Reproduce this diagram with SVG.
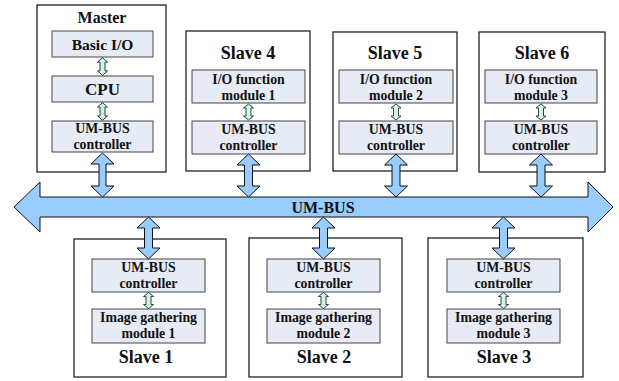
<svg xmlns="http://www.w3.org/2000/svg" width="619" height="381" viewBox="0 0 619 381">
<style>
.outer{fill:#fff;stroke:#222;stroke-width:1.3}
.mod{fill:#e6ebf6;stroke:#444;stroke-width:1}
.big{fill:#99ccff;stroke:#111;stroke-width:1}
.small{fill:#ccf5ee;stroke:#2a2a2a;stroke-width:0.9}
text{font-family:"Liberation Serif","Times New Roman",serif;font-weight:bold;text-anchor:middle;fill:#111}
.t{font-size:16px}
.s{font-size:18px}
.m{font-size:13.8px}
</style>
<defs>
<path id="sa" d="M0,-8 L5,-4 L2.5,-4 L2.5,4 L5,4 L0,8 L-5,4 L-2.5,4 L-2.5,-4 L-5,-4 Z"/>
</defs>
<g id="connectors">
<path class="big" d="M14,207 L40,182 L40,197 L588,197 L588,182 L613,207 L588,232 L588,217 L40,217 L40,232 Z"/>
<text x="323" y="213" class="t">UM-BUS</text>
</g>
<g id="master">
<rect class="outer" x="37" y="5" width="129" height="167"/>
<text x="102" y="23" class="t">Master</text>
<rect class="mod" x="52" y="31" width="101" height="26"/>
<text x="102.5" y="50" style="font-size:15.5px">Basic I/O</text>
<rect class="mod" x="52" y="76" width="101" height="26"/>
<text x="102.5" y="95" style="font-size:17px">CPU</text>
<rect class="mod" x="52" y="121" width="101" height="31"/>
<text x="102.5" y="133" class="m">UM-BUS</text>
<text x="102.5" y="149" class="m">controller</text>
<use href="#sa" class="small" transform="translate(102.5,66.5) scale(1,1.1)"/>
<use href="#sa" class="small" transform="translate(102.5,111.5) scale(1,1.1)"/>
</g>
<g id="slave4">
<rect class="outer" x="186" y="31" width="124" height="140"/>
<text x="248" y="59" class="s">Slave 4</text>
<rect class="mod" x="192" y="70" width="113" height="33"/>
<text x="248.5" y="84" class="m">I/O function</text>
<text x="248.5" y="100" class="m">module 1</text>
<rect class="mod" x="192" y="121" width="113" height="33"/>
<text x="248.5" y="134" class="m">UM-BUS</text>
<text x="248.5" y="150" class="m">controller</text>
<use href="#sa" class="small" transform="translate(248.5,112)"/>
</g>
<g id="slave5">
<rect class="outer" x="333" y="32" width="124" height="139"/>
<text x="395" y="59" class="s">Slave 5</text>
<rect class="mod" x="339" y="70" width="114" height="33"/>
<text x="396" y="84" class="m">I/O function</text>
<text x="396" y="100" class="m">module 2</text>
<rect class="mod" x="339" y="121" width="114" height="33"/>
<text x="396" y="134" class="m">UM-BUS</text>
<text x="396" y="150" class="m">controller</text>
<use href="#sa" class="small" transform="translate(396,112)"/>
</g>
<g id="slave6">
<rect class="outer" x="479" y="32" width="126" height="140"/>
<text x="542" y="59" class="s">Slave 6</text>
<rect class="mod" x="485" y="70" width="112" height="33"/>
<text x="541" y="84" class="m">I/O function</text>
<text x="541" y="100" class="m">module 3</text>
<rect class="mod" x="485" y="121" width="112" height="33"/>
<text x="541" y="134" class="m">UM-BUS</text>
<text x="541" y="150" class="m">controller</text>
<use href="#sa" class="small" transform="translate(541,112)"/>
</g>
<g id="slave1">
<rect class="outer" x="74" y="239" width="152" height="138"/>
<rect class="mod" x="92" y="259" width="113" height="33"/>
<text x="148.5" y="272" class="m">UM-BUS</text>
<text x="148.5" y="288" class="m">controller</text>
<rect class="mod" x="92" y="309" width="113" height="34"/>
<text x="148.5" y="322" class="m">Image gathering</text>
<text x="148.5" y="338" class="m">module 1</text>
<text x="146" y="363" class="s">Slave 1</text>
<use href="#sa" class="small" transform="translate(148.5,300.5)"/>
</g>
<g id="slave2">
<rect class="outer" x="249" y="238" width="153" height="139"/>
<rect class="mod" x="267" y="259" width="113" height="33"/>
<text x="323.5" y="272" class="m">UM-BUS</text>
<text x="323.5" y="288" class="m">controller</text>
<rect class="mod" x="267" y="309" width="113" height="34"/>
<text x="323.5" y="322" class="m">Image gathering</text>
<text x="323.5" y="338" class="m">module 2</text>
<text x="324" y="363" class="s">Slave 2</text>
<use href="#sa" class="small" transform="translate(323.5,300.5)"/>
</g>
<g id="slave3">
<rect class="outer" x="428" y="238" width="155" height="139"/>
<rect class="mod" x="447" y="259" width="113" height="33"/>
<text x="503.5" y="272" class="m">UM-BUS</text>
<text x="503.5" y="288" class="m">controller</text>
<rect class="mod" x="447" y="309" width="113" height="34"/>
<text x="503.5" y="322" class="m">Image gathering</text>
<text x="503.5" y="338" class="m">module 3</text>
<text x="504" y="363" class="s">Slave 3</text>
<use href="#sa" class="small" transform="translate(503.5,300.5)"/>
</g>
<g id="bus-links">
<path class="big" d="M102.5,153 L114,164 L106,164 L106,186 L114,186 L102.5,197 L91,186 L99,186 L99,164 L91,164 Z"/>
<path class="big" d="M248.5,154 L260,165 L252.5,165 L252.5,186 L260,186 L248.5,197 L237,186 L244.5,186 L244.5,165 L237,165 Z"/>
<path class="big" d="M396,154 L407.5,165 L400,165 L400,186 L407.5,186 L396,197 L384.5,186 L392,186 L392,165 L384.5,165 Z"/>
<path class="big" d="M541,154 L552.5,165 L545,165 L545,186 L552.5,186 L541,197 L529.5,186 L537,186 L537,165 L529.5,165 Z"/>
<path class="big" d="M148.5,217 L160,228 L152.5,228 L152.5,248 L160,248 L148.5,259 L137,248 L144.5,248 L144.5,228 L137,228 Z"/>
<path class="big" d="M323.5,217 L335,228 L327.5,228 L327.5,248 L335,248 L323.5,259 L312,248 L319.5,248 L319.5,228 L312,228 Z"/>
<path class="big" d="M503.5,217 L515,228 L507.5,228 L507.5,248 L515,248 L503.5,259 L492,248 L499.5,248 L499.5,228 L492,228 Z"/>
</g>
</svg>
